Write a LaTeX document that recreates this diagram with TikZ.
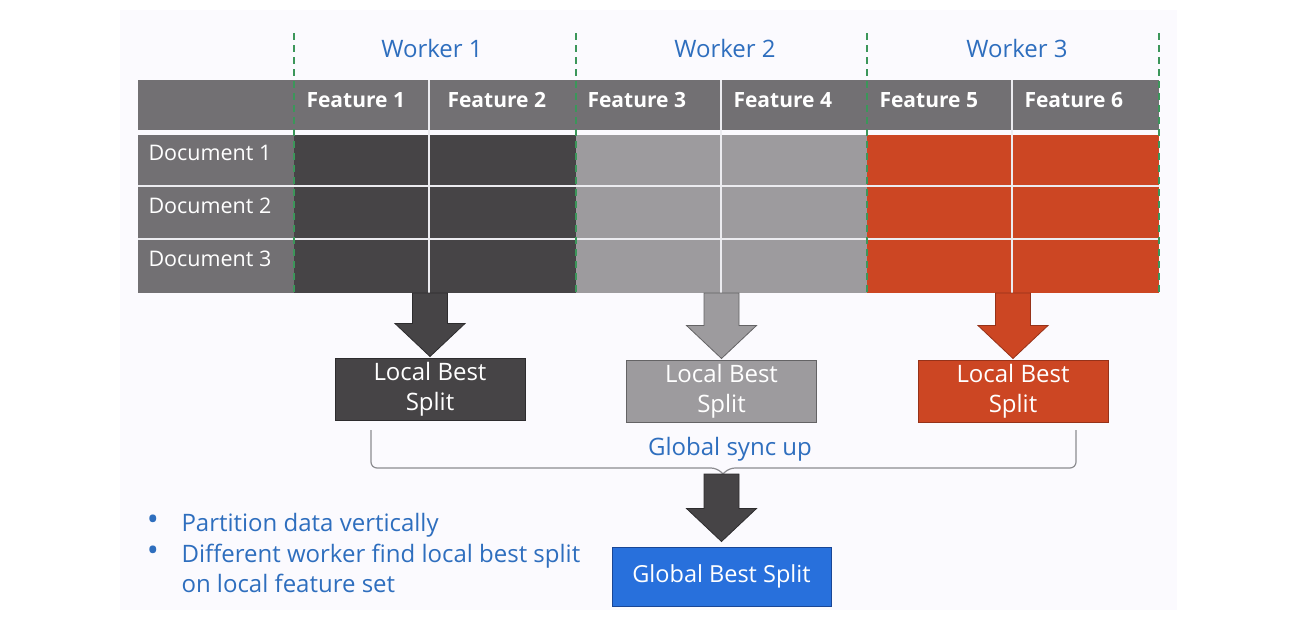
\documentclass[tikz,border=0pt]{standalone}
\usepackage{fontspec}
\setmainfont{Open Sans}
\usetikzlibrary{calc}
\definecolor{panel}{RGB}{251,250,254}
\definecolor{hdr}{RGB}{114,112,115}
\definecolor{dk}{RGB}{70,68,70}
\definecolor{dkline}{RGB}{45,44,46}
\definecolor{lg}{RGB}{157,155,158}
\definecolor{lgline}{RGB}{100,99,101}
\definecolor{org}{RGB}{204,70,35}
\definecolor{orgline}{RGB}{150,50,25}
\definecolor{bluetxt}{RGB}{46,110,190}
\definecolor{grn}{RGB}{60,150,90}
\definecolor{gbox}{RGB}{40,112,220}
\definecolor{gboxline}{RGB}{25,70,150}
\definecolor{sepc}{RGB}{236,236,240}
\definecolor{bracec}{RGB}{140,140,144}
\newcommand\blockarrow[5]{%
  \filldraw[fill=#1,draw=#2,line width=0.8pt] let \p1=(#3),\p2=(#4) in
    (\x2-17.5pt,\y1) -- (\x2-17.5pt,\y2+#5pt+33pt) -- (\x2-35pt,\y2+#5pt+33pt) --
    (\x2,\y2+#5pt) -- (\x2+35pt,\y2+#5pt+33pt) -- (\x2+17.5pt,\y2+#5pt+33pt) --
    (\x2+17.5pt,\y1) -- cycle;}
\begin{document}
\begin{tikzpicture}[x=1pt,y=-1pt,
  wk/.style={anchor=base,text=bluetxt,font=\fontsize{24}{28}\selectfont},
  feat/.style={anchor=base west,text=white,font=\bfseries\fontsize{21}{25}\selectfont},
  doc/.style={anchor=base west,text=white,font=\fontsize{21.5}{25}\selectfont},
  sep/.style={draw=sepc,line width=2pt},
  gdash/.style={draw=grn,line width=1.5pt,dash pattern=on 7pt off 5pt},
  lbox/.style={minimum width=190pt,minimum height=62pt,inner sep=0pt,align=center,
    text=white,font=\fontsize{24}{30}\selectfont,line width=1pt},
  bul/.style={anchor=base west,text=bluetxt,font=\fontsize{24}{28}\selectfont},
  dot/.style={text=bluetxt,font=\fontsize{32}{34}\selectfont,inner sep=0pt}]
\useasboundingbox (0,0) rectangle (1314,622);
\fill[white] (0,0) rectangle (1314,622);
\fill[panel] (120,10) rectangle (1177,610);
% table
\fill[hdr] (138,80) rectangle (1159,130);
\fill[hdr] (138,135) rectangle (294,293);
\fill[dk] (294,135) rectangle (576,293);
\fill[lg] (576,135) rectangle (867,293);
\fill[org] (867,135) rectangle (1159,293);
\draw[sep] (138,186) -- (1159,186);
\draw[sep] (138,239) -- (1159,239);
\draw[sep] (429,80) -- (429,293);
\draw[sep] (721,80) -- (721,293);
\draw[sep] (1012,80) -- (1012,293);
\foreach \xx in {294,576,867,1159} \draw[gdash] (\xx,33) -- (\xx,293);
% worker labels
\node[wk] (w1) at (432,57) {Worker 1};
\node[wk] (w2) at (725,57) {Worker 2};
\node[wk] (w3) at (1017,57) {Worker 3};
% feature headers
\node[feat] (f1) at (303,107) {Feature 1};
\node[feat] (f2) at (444,107) {Feature 2};
\node[feat] (f3) at (584,107) {Feature 3};
\node[feat] (f4) at (730,107) {Feature 4};
\node[feat] (f5) at (876,107) {Feature 5};
\node[feat] (f6) at (1021,107) {Feature 6};
% documents
\node[doc] (d1) at (145,160) {Document 1};
\node[doc] (d2) at (145,213) {Document 2};
\node[doc] (d3) at (145,266) {Document 3};
% table bottom coordinates
\coordinate (t1) at (430,293);
\coordinate (t2) at (722,293);
\coordinate (t3) at (1014,293);
% local best split boxes
\node[lbox,fill=dk,draw=dkline] (lb1) at (430,389) {Local Best\\Split};
\node[lbox,fill=lg,draw=lgline] (lb2) at (721.5,391) {Local Best\\Split};
\node[lbox,fill=org,draw=orgline] (lb3) at (1013,391) {Local Best\\Split};
\blockarrow{dk}{dkline}{t1}{lb1.north}{1}
\blockarrow{lg}{lgline}{t2}{lb2.north}{1}
\blockarrow{org}{orgline}{t3}{lb3.north}{1}
% brace
\coordinate (bl) at (371,430);
\coordinate (br) at (1076,430);
\coordinate (bt) at (723,474);
\draw[bracec,line width=1.2pt,rounded corners=6pt]
  (bl) -- (371,468) -- (717,468) -- (bt);
\draw[bracec,line width=1.2pt,rounded corners=6pt]
  (br) -- (1076,468) -- (729,468) -- (bt);
\node[anchor=base,text=bluetxt,font=\fontsize{24}{28}\selectfont] (sync) at (730,455) {Global sync up};
% global best split
\node[lbox,fill=gbox,draw=gboxline,minimum width=219pt,minimum height=59pt,
  font=\fontsize{23.5}{28}\selectfont] (gb) at (721.5,576.5) {Global Best Split};
\blockarrow{dk}{dkline}{bt}{gb.north}{5}
% bullets
\node[dot] (b1) at (153,523) {•};
\node[dot] (b2) at (153,554) {•};
\node[bul] (l1) at (178,531) {Partition data vertically};
\node[bul] (l2) at (178,562) {Different worker find local best split};
\node[bul] (l3) at (178,592) {on local feature set};
\end{tikzpicture}
\end{document}
